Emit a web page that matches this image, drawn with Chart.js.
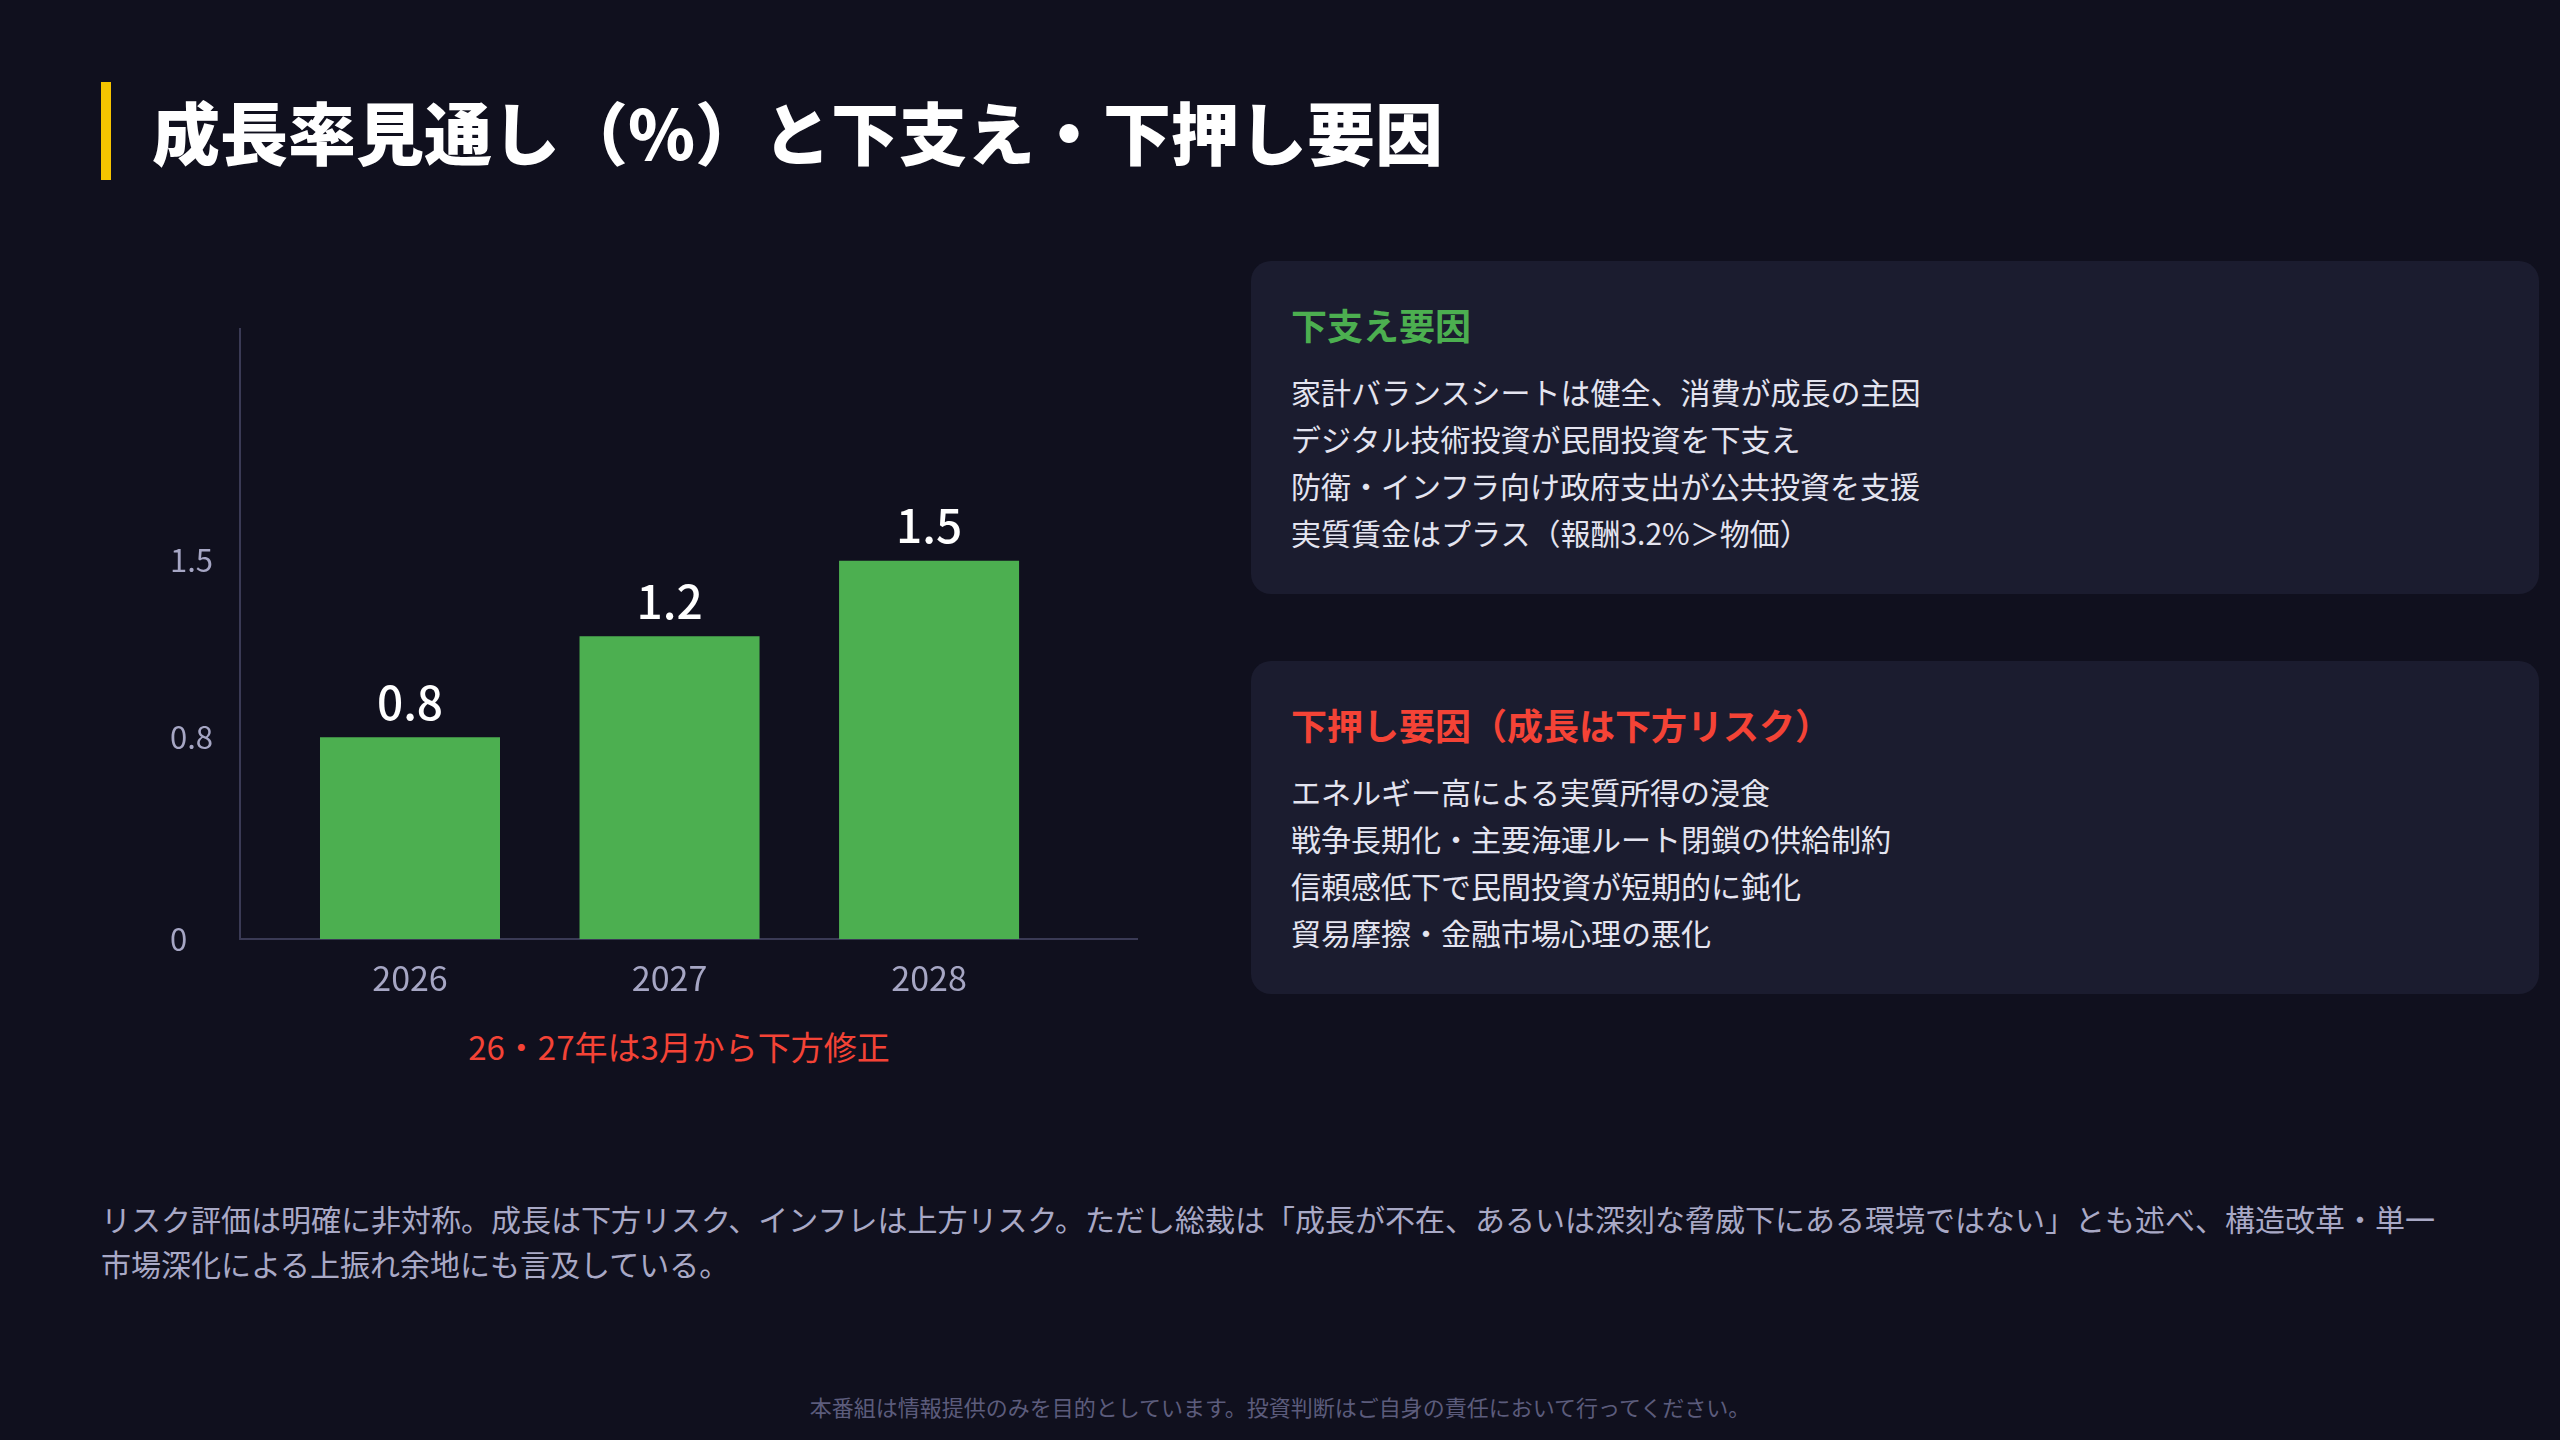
<!DOCTYPE html>
<html lang="ja">
<head>
<meta charset="utf-8">
<script src="https://cdn.jsdelivr.net/npm/chart.js@4.4.1/dist/chart.umd.min.js"></script>
<style>
  html, body { margin:0; padding:0; width:2560px; height:1440px; overflow:hidden; background:#10101e; font-family:"Noto Sans CJK JP","Noto Sans",sans-serif; }
  .abs { position:absolute; }
  #titlebar { left:101px; top:82px; width:10px; height:98px; background:#f5c400; }
  #title { left:152px; top:82px; line-height:98px; font-size:68px; font-weight:900; color:#ffffff; white-space:nowrap; }
  #chartbox { left:170px; top:300px; width:968px; height:709px; }
  .card { position:absolute; left:1251px; width:1288px; height:333px; background:#1b1c2f; border-radius:20px; }
  .card h3 { position:absolute; margin:0; left:40px; top:39px; line-height:48px; font-size:36px; font-weight:700; white-space:nowrap; }
  .card ul { position:absolute; margin:0; padding:0; list-style:none; left:40px; top:107px; }
  .card li { font-size:30px; line-height:47px; color:#e4e4f0; white-space:nowrap; }
  #note { left:329px; width:700px; top:1026px; line-height:40px; text-align:center; font-size:33px; color:#f44336; }
  #para { left:101px; top:1196px; width:2380px; font-size:30px; line-height:45px; color:#a9a9c6; white-space:nowrap; }
  #footer { left:0; width:2560px; top:1392px; line-height:28px; text-align:center; font-size:22px; color:#5c5c7c; }
</style>
</head>
<body>
<div id="titlebar" class="abs"></div>
<div id="title" class="abs">成長率見通し（%）と下支え・下押し要因</div>
<div id="chartbox" class="abs"><canvas id="c"></canvas></div>
<div id="note" class="abs">26・27年は3月から下方修正</div>

<div class="card" style="top:261px;">
  <h3 style="color:#4caf50;">下支え要因</h3>
  <ul id="upList"></ul>
</div>
<div class="card" style="top:661px;">
  <h3 style="color:#f44336;">下押し要因（成長は下方リスク）</h3>
  <ul id="downList"></ul>
</div>

<div id="para" class="abs">リスク評価は明確に非対称。成長は下方リスク、インフレは上方リスク。ただし総裁は「成長が不在、あるいは深刻な脅威下にある環境ではない」とも述べ、構造改革・単一<br>市場深化による上振れ余地にも言及している。</div>
<div id="footer" class="abs">本番組は情報提供のみを目的としています。投資判断はご自身の責任において行ってください。</div>

<script>
const years = ['2026', '2027', '2028'];
const growth = [0.8, 1.2, 1.5];
const yTicks = [0, 0.8, 1.5];
const supportFactors = [
  '家計バランスシートは健全、消費が成長の主因',
  'デジタル技術投資が民間投資を下支え',
  '防衛・インフラ向け政府支出が公共投資を支援',
  '実質賃金はプラス（報酬3.2%＞物価）'
];
const dragFactors = [
  'エネルギー高による実質所得の浸食',
  '戦争長期化・主要海運ルート閉鎖の供給制約',
  '信頼感低下で民間投資が短期的に鈍化',
  '貿易摩擦・金融市場心理の悪化'
];

function fillList(id, items) {
  const ul = document.getElementById(id);
  items.forEach(t => { const li = document.createElement('li'); li.textContent = t; ul.appendChild(li); });
}
fillList('upList', supportFactors);
fillList('downList', dragFactors);

const FONT = '"Noto Sans CJK JP","Noto Sans",sans-serif';

const valueLabels = {
  id: 'valueLabels',
  afterDatasetsDraw(chart) {
    const ctx = chart.ctx;
    const meta = chart.getDatasetMeta(0);
    ctx.save();
    ctx.fillStyle = '#ffffff';
    ctx.font = '500 46px ' + FONT;
    ctx.textAlign = 'center';
    ctx.textBaseline = 'bottom';
    meta.data.forEach((bar, i) => {
      ctx.fillText(growth[i].toFixed(1), bar.x, bar.y - 12);
    });
    ctx.restore();
  }
};

new Chart(document.getElementById('c'), {
  type: 'bar',
  data: {
    datasets: [{
      data: growth.map((v, i) => ({ x: i, y: v })),
      backgroundColor: '#4caf50',
      borderWidth: 0,
      categoryPercentage: 0.8,
      barPercentage: 0.867
    }]
  },
  options: {
    responsive: true,
    maintainAspectRatio: false,
    animation: false,
    layout: { padding: { top: 16, right: 0, left: 0, bottom: 0 } },
    plugins: { legend: { display: false }, tooltip: { enabled: false } },
    scales: {
      x: {
        type: 'linear',
        offset: false,
        bounds: 'data',
        min: -0.655,
        max: 2.805,
        grid: { display: false, drawTicks: false, offset: false },
        border: { display: true, color: '#3a3a55', width: 2 },
        afterBuildTicks: (s) => { s.ticks = years.map((_, i) => ({ value: i })); },
        afterFit: (s) => { s.height = 70; },
        ticks: {
          color: '#a6a6c4',
          font: { size: 34, family: FONT },
          padding: 19,
          autoSkip: false,
          maxRotation: 0,
          callback: (v) => years[v] ?? ''
        }
      },
      y: {
        min: 0,
        max: 2.42,
        grid: { display: false, drawTicks: false },
        border: { display: true, color: '#3a3a55', width: 2 },
        afterBuildTicks: (s) => { s.ticks = yTicks.map(v => ({ value: v })); },
        afterFit: (s) => { s.width = 70; },
        ticks: {
          color: '#a6a6c4',
          font: { size: 31, family: FONT },
          crossAlign: 'far',
          padding: 10,
          callback: (v) => String(v)
        }
      }
    }
  },
  plugins: [valueLabels]
});
</script>
</body>
</html>
